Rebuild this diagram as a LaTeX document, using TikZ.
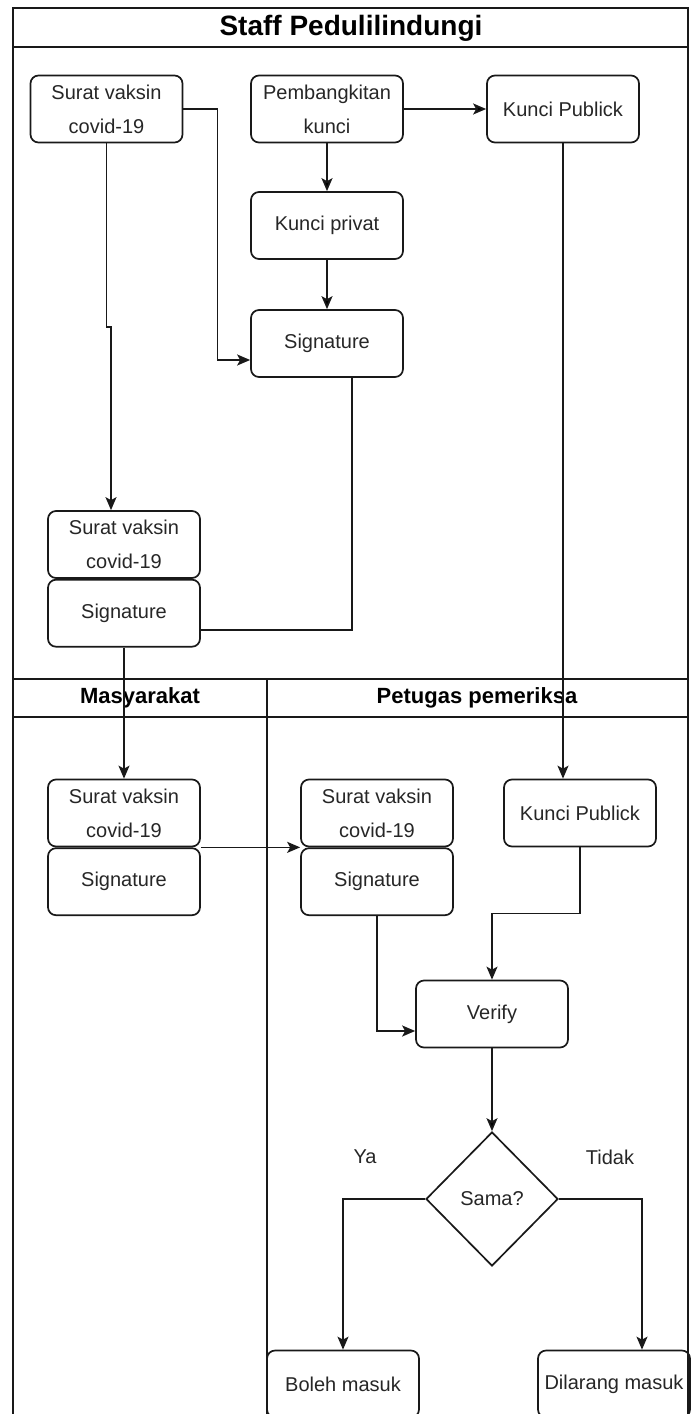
\documentclass[tikz,border=0pt]{standalone}
\usepackage{fontspec}
\setmainfont{Liberation Sans}
\usetikzlibrary{positioning}
\usetikzlibrary{shapes.geometric}
\usetikzlibrary{arrows.meta}

\tikzset{
    box/.style={draw=black!90, rounded corners=8pt, line width=1.7pt, minimum width=152pt, minimum height=67pt, inner sep=0pt, align=center, text=black!85, font=\fontsize{20}{34}\selectfont},
    choice/.style={draw=black!90, diamond, line width=1.7pt, minimum width=132pt, minimum height=134pt, inner sep=0pt, text=black!85, font=\fontsize{20}{34}\selectfont},
    lane/.style={draw=black!90, line width=2pt},
    flow/.style={draw=black!90, line width=1.7pt},
    >={Stealth[length=13pt,width=11pt,inset=3pt]}
}

\begin{document}
\begin{tikzpicture}[x=1pt, y=-1pt]
    \clip (0, 0) rectangle (691, 1414);

    % swimlanes
    \draw[lane] (13, 1430) -- (13, 8) -- (688, 8) -- (688, 1430);
    \draw[lane] (13, 47) -- (688, 47);
    \draw[lane] (13, 679) -- (688, 679);
    \draw[lane] (13, 717) -- (688, 717);
    \draw[lane] (267, 679) -- (267, 1430);

    \node[font=\fontsize{28}{30}\selectfont\bfseries] (staff) at (351, 28) {Staff Pedulilindungi};
    \node[font=\fontsize{22}{26}\selectfont\bfseries] (masy) at (140, 698) {Masyarakat};
    \node[font=\fontsize{22}{26}\selectfont\bfseries] (petugas) at (477, 698) {Petugas pemeriksa};

    % staff
    \node[box] (sv1) at (106.5, 109) {Surat vaksin\\covid-19};
    \node[box] (pk) at (327, 109) {Pembangkitan\\kunci};
    \node[box] (kp1) at (563, 109) {Kunci Publick};
    \node[box] (kpr) at (327, 225.5) {Kunci privat};
    \node[box] (sig1) at (327, 343.5) {Signature};

    \node[box] (sv2) at (124, 544.5) {Surat vaksin\\covid-19};
    \node[box, below=0pt of sv2] (sg2) {Signature};

    % masyarakat and petugas
    \foreach \x/\n in {124/3, 377/4} {
        \node[box] (sv\n) at (\x, 813) {Surat vaksin\\covid-19};
        \node[box, below=0pt of sv\n] (sg\n) {Signature};
    }
    \node[box] (kp2) at (580, 813) {Kunci Publick};
    \node[box] (ver) at (492, 1014) {Verify};
    \node[choice] (sama) at (492, 1199) {Sama?};
    \node[box] (boleh) at (343, 1384) {Boleh masuk};
    \node[box] (dilarang) at (614, 1384) {Dilarang masuk};

    \node[text=black!85, font=\fontsize{20}{24}\selectfont] (ya) at (365, 1157) {Ya};
    \node[text=black!85, font=\fontsize{20}{24}\selectfont] (tidak) at (610, 1157) {Tidak};

    \path[flow, ->]
        (pk) edge (kp1)
        (pk) edge (kpr)
        (kpr) edge (sig1)
        (ver) edge (sama);

    \draw[flow, ->] (sv1.east) -- ++(34, 0) |- ([yshift=-16.5pt]sig1.west);
    \draw[flow, ->] (sv1.south) |- (111, 327) -- ([xshift=-13pt]sv2.north);
    \draw[flow] ([yshift=-16.5pt]sg2.east) -| ([xshift=25pt]sig1.south);
    \draw[flow, ->] (sg2.south) -- (sv3.north);
    \draw[flow, ->] (kp1.south) -- (kp1.south |- kp2.north);
    \draw[flow, ->] (sv3.south east) -- (sv4.south west);
    \draw[flow, ->] (sg4.south) |- ([yshift=-17pt]ver.west);
    \draw[flow, ->] (kp2.south) -- ++(0, 66) -| (ver.north);
    \draw[flow, ->] (sama.west) -| (boleh.north);
    \draw[flow, ->] (sama.east) -| ([xshift=28pt]dilarang.north);
\end{tikzpicture}
\end{document}
